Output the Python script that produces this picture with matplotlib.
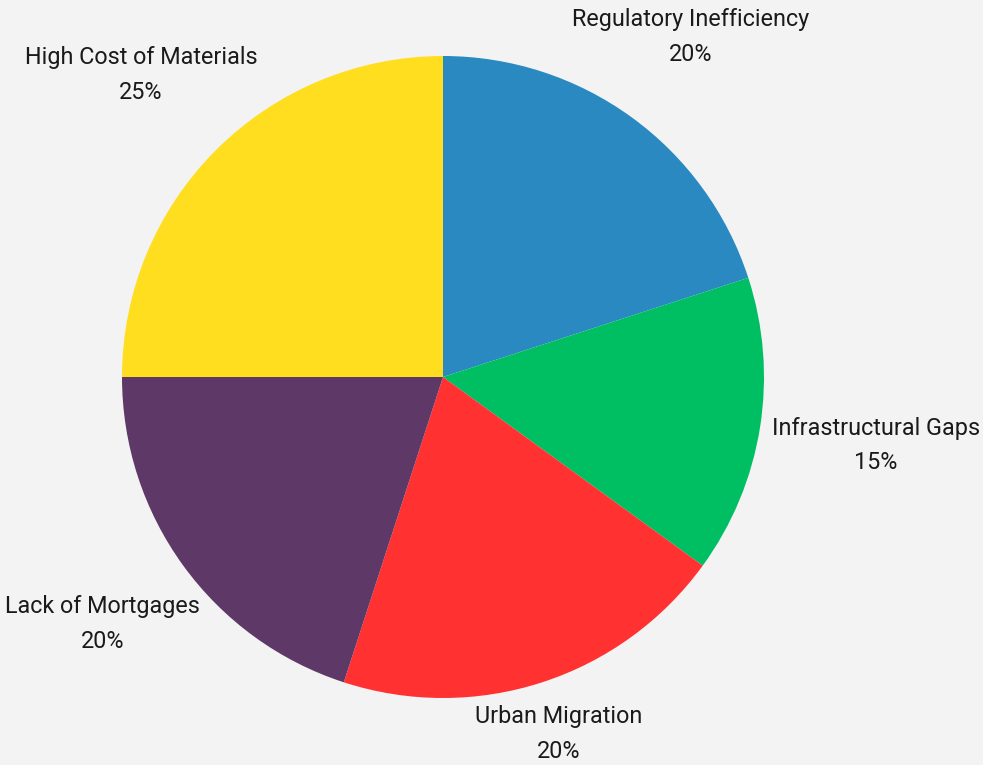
import numpy as np
import matplotlib.pyplot as plt

# share of barriers to housing delivery
labels = ["Regulatory Inefficiency", "Infrastructural Gaps", "Urban Migration",
          "Lack of Mortgages", "High Cost of Materials"]
shares = [20, 15, 20, 20, 25]
colors = ["#2a89c1", "#00bf63", "#ff3131", "#5e3866", "#ffde20"]

# how far out each label sits (in pie radii)
label_dist = [1.31, 1.365, 1.17, 1.31, 1.33]

bg = "#f3f3f3"
fig = plt.figure(figsize=(9.83, 7.65), dpi=100, facecolor=bg)
cx, cy, r = 443, 765 - 377, 321
ax = fig.add_axes([(cx - r) / 983, (cy - r) / 765, 2 * r / 983, 2 * r / 765])
ax.set_facecolor(bg)

wedges, _ = ax.pie(shares, colors=colors, startangle=90, counterclock=False,
                   wedgeprops=dict(linewidth=0))

total = sum(shares)
start = 90.0
for lab, val, d in zip(labels, shares, label_dist):
    mid = np.deg2rad(start - val / total * 360 / 2)
    start -= val / total * 360
    ax.text(d * np.cos(mid), d * np.sin(mid), f"{lab}\n{val}%",
            ha="center", va="center", fontsize=16.8, family="Roboto",
            color="#1a1a1a", linespacing=1.65)

ax.set_xlim(-1, 1)
ax.set_ylim(-1, 1)
ax.axis("off")
fig.savefig("out.png", dpi=100, facecolor=bg)
